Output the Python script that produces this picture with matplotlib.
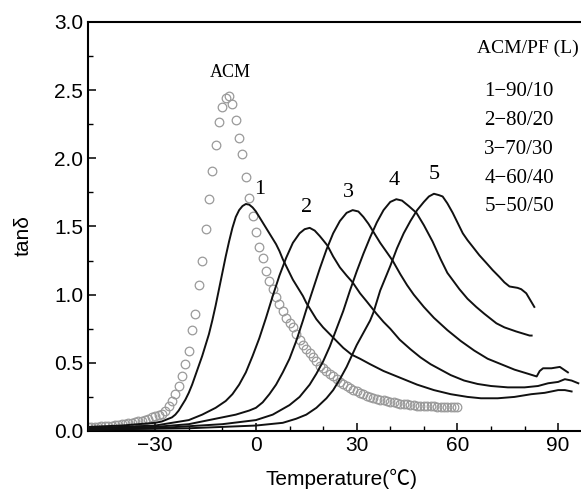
import numpy as np
import matplotlib.pyplot as plt

plt.rcParams.update({"font.family": ["Liberation Sans", "Noto Sans CJK SC", "DejaVu Sans"]})

# ACM (open circles), one point per degree
acm_t = list(range(-50, 61))
acm_tan = [
    0.03, 0.03, 0.03, 0.03, 0.035, 0.035, 0.04, 0.04, 0.045, 0.045,
    0.05, 0.05, 0.055, 0.06, 0.065, 0.07, 0.075, 0.08, 0.09, 0.10,
    0.11, 0.115, 0.125, 0.15, 0.18, 0.22, 0.27, 0.33, 0.40, 0.49,
    0.59, 0.74, 0.86, 1.07, 1.25, 1.48, 1.70, 1.91, 2.10, 2.27,
    2.38, 2.44, 2.46, 2.40, 2.28, 2.15, 2.03, 1.86, 1.71, 1.58,
    1.46, 1.35, 1.27, 1.17, 1.10, 1.04, 0.98, 0.93, 0.88, 0.83,
    0.79, 0.76, 0.71, 0.67, 0.63, 0.60, 0.57, 0.54, 0.51, 0.48,
    0.46, 0.44, 0.42, 0.40, 0.38, 0.36, 0.345, 0.33, 0.315, 0.30,
    0.29, 0.28, 0.27, 0.26, 0.25, 0.24, 0.235, 0.23, 0.225, 0.22,
    0.215, 0.21, 0.205, 0.20, 0.20, 0.195, 0.19, 0.19, 0.185, 0.185,
    0.18, 0.18, 0.18, 0.18, 0.175, 0.175, 0.175, 0.175, 0.175, 0.175, 0.175,
]

# blends 1-5 (solid lines)
t1 = [-50, -45, -40, -35, -30, -28, -26, -25, -24, -23, -22, -21, -20, -19, -18, -17, -16, -15,
      -14, -13, -12, -11, -10, -9, -8, -7, -6, -5, -4, -3, -2, -1, 0, 1, 2, 3, 4, 5, 6, 7, 8, 9,
      10, 11, 12, 13, 14, 15, 16, 17, 18, 20, 22, 24, 26, 28.5, 31, 34, 38, 43, 48, 53, 58, 63,
      67, 72, 77, 82, 86, 90, 92, 94]
tan1 = [0.03, 0.035, 0.04, 0.05, 0.06, 0.07, 0.09, 0.10, 0.12, 0.15, 0.19, 0.23, 0.28, 0.34,
        0.41, 0.48, 0.55, 0.63, 0.71, 0.81, 0.92, 1.04, 1.16, 1.28, 1.39, 1.49, 1.57, 1.62, 1.65,
        1.665, 1.66, 1.64, 1.61, 1.57, 1.53, 1.49, 1.45, 1.41, 1.37, 1.32, 1.26, 1.21, 1.16, 1.11,
        1.07, 1.03, 0.99, 0.94, 0.90, 0.86, 0.82, 0.76, 0.71, 0.66, 0.61, 0.56, 0.53, 0.49, 0.44,
        0.39, 0.34, 0.30, 0.27, 0.25, 0.24, 0.24, 0.25, 0.27, 0.28, 0.30, 0.30, 0.29]

t2 = [-50, -40, -30, -25, -20, -16, -12, -9, -7, -5, -3, -1, 1, 3, 5, 7, 9, 11, 13, 14.5, 16,
      17.5, 19, 20, 21.3, 23, 25, 27, 28.8, 31, 33, 35.9, 38, 40, 42.8, 46, 49, 52, 55, 58, 62,
      66, 70, 75, 80, 84, 87, 90, 92, 94, 96]
tan2 = [0.02, 0.03, 0.04, 0.06, 0.08, 0.12, 0.17, 0.22, 0.27, 0.34, 0.43, 0.55, 0.68, 0.83,
        0.99, 1.14, 1.27, 1.38, 1.45, 1.48, 1.49, 1.47, 1.43, 1.40, 1.36, 1.28, 1.20, 1.14, 1.09,
        1.01, 0.95, 0.86, 0.80, 0.75, 0.67, 0.60, 0.54, 0.49, 0.45, 0.41, 0.37, 0.345, 0.33, 0.32,
        0.32, 0.33, 0.35, 0.36, 0.38, 0.37, 0.35]

t3 = [-50, -30, -20, -12, -6, -2, 0, 2, 4, 6, 8, 10, 12, 14, 15, 17, 19, 21, 23, 25, 27, 28.8,
      30.5, 32, 33.5, 35, 37, 39, 40.7, 43, 45, 47, 50, 53, 57, 61, 65, 69, 73, 77, 81, 83.6,
      84.5, 85.5, 88, 90.5, 92.9]
tan3 = [0.02, 0.03, 0.05, 0.09, 0.12, 0.15, 0.17, 0.21, 0.27, 0.34, 0.43, 0.53, 0.66, 0.81,
        0.89, 1.04, 1.19, 1.33, 1.45, 1.54, 1.60, 1.62, 1.61, 1.57, 1.52, 1.46, 1.38, 1.31, 1.25,
        1.15, 1.07, 1.00, 0.91, 0.83, 0.74, 0.66, 0.59, 0.53, 0.49, 0.45, 0.42, 0.40, 0.44, 0.46,
        0.46, 0.47, 0.43]

t4 = [-50, -30, -10, 0, 5, 10, 13, 16, 18, 20, 22, 24, 26, 28, 30, 32, 34, 36, 38, 40, 41.8,
      43.5, 45.5, 47.8, 50, 52.6, 55, 57, 60.6, 63, 65.6, 68, 71.6, 74, 77.5, 81.5, 82.1]
tan4 = [0.01, 0.02, 0.05, 0.08, 0.12, 0.19, 0.25, 0.34, 0.42, 0.51, 0.62, 0.75, 0.88, 1.03,
        1.17, 1.30, 1.42, 1.53, 1.62, 1.68, 1.70, 1.69, 1.65, 1.60, 1.51, 1.39, 1.26, 1.16, 1.04,
        0.97, 0.91, 0.86, 0.79, 0.76, 0.73, 0.70, 0.70]

t5 = [-50, -20, 0, 8, 12, 15, 18, 21, 23, 25, 27, 28.5, 30, 32, 34, 35, 36, 37, 38.5, 40, 42,
      44, 46, 48, 50, 51.5, 53, 54.5, 55.6, 57, 58.6, 60, 61.6, 63, 64.6, 66.5, 68.7, 70.5, 72.5,
      74, 75.5, 77.9, 79, 80.5, 82.9]
tan5 = [0.01, 0.02, 0.04, 0.06, 0.09, 0.12, 0.17, 0.24, 0.30, 0.38, 0.47, 0.55, 0.63, 0.72,
        0.81, 0.87, 0.95, 1.03, 1.12, 1.21, 1.34, 1.45, 1.54, 1.62, 1.68, 1.72, 1.74, 1.73, 1.72,
        1.67, 1.60, 1.53, 1.45, 1.40, 1.35, 1.29, 1.23, 1.18, 1.13, 1.09, 1.06, 1.05, 1.04, 1.01,
        0.91]

curve_labels = ["1", "2", "3", "4", "5"]
legend_title = "ACM/PF (L)"
legend_rows = ["1\u221290/10", "2\u221280/20", "3\u221270/30", "4\u221260/40", "5\u221250/50"]

fig = plt.figure(figsize=(5.81, 4.95), dpi=100)
ax = fig.add_axes([0.1515, 0.1293, 0.8485, 0.8263])

ax.plot(acm_t, acm_tan, "o", ms=6.2, mfc="none", mec="#9a9a9a", mew=0.9, zorder=2)
for t, v in [(t1, tan1), (t2, tan2), (t3, tan3), (t4, tan4), (t5, tan5)]:
    ax.plot(t, v, "-", color="#111111", lw=1.4, zorder=3)

ax.set_xlim(-50, 96.8)
ax.set_ylim(0, 3.0)
ax.set_xticks([-30, 0, 30, 60, 90])
ax.set_xticks(np.arange(-40, 97, 10), minor=True)
ax.set_yticks([0, 0.5, 1.0, 1.5, 2.0, 2.5, 3.0])
ax.set_yticks(np.arange(0.25, 3.0, 0.5), minor=True)
ax.tick_params(which="major", direction="in", length=6, width=1.1, labelsize=15)
ax.tick_params(which="minor", direction="in", length=3.5, width=1.0)
ax.yaxis.set_major_formatter(plt.FormatStrFormatter("%.1f"))
ax.spines["right"].set_visible(False)
for s in ["left", "bottom", "top"]:
    ax.spines[s].set_linewidth(1.5)

ax.set_xlabel("Temperature(\u2103)", fontsize=15)
ax.xaxis.set_label_coords(0.515, -0.093)
ax.set_ylabel("tan\u03b4", fontsize=15)
ax.yaxis.set_label_coords(-0.112, 0.479)

serif = "Liberation Serif"
ax.text(-7.5, 2.63, "ACM", family=serif, fontsize=13, ha="center", va="center")
label_pos = [(1.1, 1.77), (15.1, 1.64), (27.6, 1.75), (41.3, 1.84), (53.2, 1.88)]
for lab, (x, y) in zip(curve_labels, label_pos):
    ax.text(x, y, lab, family=serif, fontsize=16, ha="center", va="center")

ax.text(65.7, 2.81, legend_title, family=serif, fontsize=14, ha="left", va="center")
for i, row in enumerate(legend_rows):
    ax.text(68.0, 2.487 - i * 0.211, row, family=serif, fontsize=15, ha="left", va="center")

fig.savefig("out.png", dpi=100)
